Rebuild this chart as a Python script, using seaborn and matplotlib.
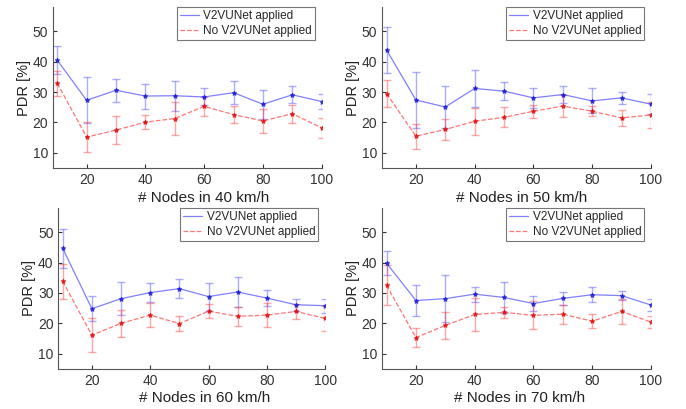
import matplotlib
matplotlib.use("Agg")
import matplotlib.pyplot as plt
import seaborn as sns
import numpy as np

nodes = [10, 20, 30, 40, 50, 60, 70, 80, 90, 100]
speeds = ["40 km/h", "50 km/h", "60 km/h", "70 km/h"]

# PDR means and error half-widths
v2v_40 = [40.5, 27.3, 30.6, 28.7, 28.8, 28.4, 29.8, 26.0, 29.1, 26.9]
v2v_40_err = [4.5, 7.5, 3.7, 4.1, 4.9, 2.8, 3.8, 4.7, 2.8, 2.6]
nov_40 = [32.9, 15.2, 17.5, 20.1, 21.3, 25.3, 22.6, 20.5, 22.9, 18.2]
nov_40_err = [4.1, 4.8, 4.7, 2.4, 5.5, 3.2, 2.9, 3.9, 3.0, 3.4]

v2v_50 = [43.9, 27.4, 25.1, 31.2, 30.3, 28.1, 29.2, 27.1, 28.1, 26.0]
v2v_50_err = [7.5, 9.2, 6.9, 6.1, 3.0, 3.3, 2.8, 4.1, 2.0, 3.3]
nov_50 = [29.5, 15.5, 17.7, 20.4, 21.7, 23.7, 25.4, 23.7, 21.5, 22.5]
nov_50_err = [4.5, 4.1, 3.4, 4.5, 3.3, 2.2, 3.6, 1.7, 2.5, 4.2]

v2v_60 = [44.7, 24.8, 28.1, 30.1, 31.4, 28.8, 30.3, 28.3, 26.1, 25.8]
v2v_60_err = [6.4, 4.2, 5.4, 3.0, 3.1, 4.6, 4.8, 2.5, 2.0, 2.3]
nov_60 = [33.8, 16.1, 20.0, 22.7, 19.9, 24.0, 22.3, 22.7, 23.9, 21.6]
nov_60_err = [5.8, 5.5, 4.5, 4.0, 2.4, 2.2, 3.1, 4.0, 2.6, 4.0]

v2v_70 = [39.8, 27.5, 28.1, 29.6, 28.5, 26.5, 28.2, 29.4, 29.1, 26.0]
v2v_70_err = [3.9, 5.0, 7.7, 2.5, 5.0, 2.4, 2.1, 2.5, 1.4, 2.1]
nov_70 = [32.5, 15.3, 19.3, 22.9, 23.6, 22.6, 23.0, 20.7, 23.9, 20.4]
nov_70_err = [6.6, 3.0, 4.3, 5.4, 1.9, 4.6, 3.1, 2.3, 4.2, 2.1]

panels = [
    (v2v_40, v2v_40_err, nov_40, nov_40_err),
    (v2v_50, v2v_50_err, nov_50, nov_50_err),
    (v2v_60, v2v_60_err, nov_60, nov_60_err),
    (v2v_70, v2v_70_err, nov_70, nov_70_err),
]

sns.set_style("ticks")
plt.rcParams['font.family'] = ['Liberation Sans', 'DejaVu Sans']

fig = plt.figure(figsize=(6.86, 4.09), dpi=100)
boxes = [
    [0.077, 0.589, 0.392, 0.394],
    [0.557, 0.589, 0.392, 0.394],
    [0.085, 0.098, 0.389, 0.394],
    [0.557, 0.098, 0.392, 0.394],
]
label_x = [0.56, 0.52, 0.55, 0.51]

blue = "#4a4aff"
red = "#ff3a3a"

for box, speed, lx, (b, be, r, re_) in zip(boxes, speeds, label_x, panels):
    ax = fig.add_axes(box)
    ax.errorbar(nodes, b, yerr=be, fmt="none", ecolor=blue, alpha=0.45,
                elinewidth=1, capsize=3, capthick=1)
    ax.errorbar(nodes, r, yerr=re_, fmt="none", ecolor=red, alpha=0.45,
                elinewidth=1, capsize=3, capthick=1)
    sns.lineplot(x=nodes, y=b, ax=ax, color=blue, alpha=0.7, linewidth=0.9,
                 marker="*", markersize=3.5, markeredgecolor="#1010d0",
                 markerfacecolor="#1010d0", label="V2VUNet applied")
    sns.lineplot(x=nodes, y=r, ax=ax, color=red, alpha=0.7, linewidth=0.9,
                 linestyle="--", marker="*", markersize=3.5,
                 markeredgecolor="#e00000", markerfacecolor="#e00000",
                 label="No V2VUNet applied")
    ax.set_xlim(8.5, 100)
    ax.set_ylim(5, 58)
    ax.set_xticks([20, 40, 60, 80, 100])
    ax.set_yticks([10, 20, 30, 40, 50])
    ax.tick_params(direction="in", length=3, labelsize=10, colors="#333333")
    for s in ["top", "right"]:
        ax.spines[s].set_visible(False)
    for s in ["left", "bottom"]:
        ax.spines[s].set_color("#555555")
        ax.spines[s].set_linewidth(0.8)
    ax.set_xlabel("# Nodes in " + speed, fontsize=11, color="#222222", labelpad=2)
    ax.xaxis.set_label_coords(lx, -0.14)
    ax.set_ylabel("PDR [%]", fontsize=10.5, color="#222222", labelpad=1)
    leg = ax.legend(loc="upper right", bbox_to_anchor=(0.975, 1.0), fontsize=8.5,
                    fancybox=False, framealpha=1, borderpad=0.25,
                    handlelength=1.6, handletextpad=0.4, labelspacing=0.25,
                    borderaxespad=0.0)
    leg.get_frame().set_edgecolor("#777777")
    leg.get_frame().set_linewidth(0.8)
    for h in leg.get_lines():
        h.set_marker("")

fig.savefig("out.png", dpi=100)
